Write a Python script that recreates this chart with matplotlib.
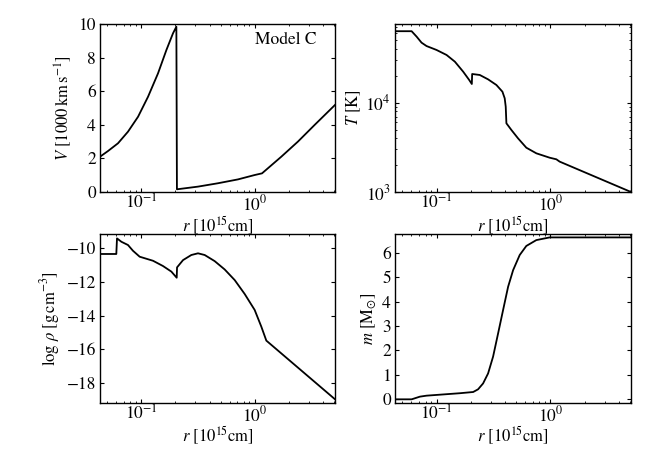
import numpy as np
import matplotlib
matplotlib.use('Agg')
import matplotlib.pyplot as plt

plt.rcParams['font.family'] = 'STIXGeneral'
plt.rcParams['mathtext.fontset'] = 'stix'
plt.rcParams['font.size'] = 12
plt.rcParams['xtick.labelsize'] = 12.5
plt.rcParams['ytick.labelsize'] = 12.5
plt.rcParams['xtick.direction'] = 'in'
plt.rcParams['ytick.direction'] = 'in'
plt.rcParams['xtick.top'] = True
plt.rcParams['ytick.right'] = True
plt.rcParams['xtick.major.size'] = 3
plt.rcParams['ytick.major.size'] = 3
plt.rcParams['xtick.minor.size'] = 1.6
plt.rcParams['ytick.minor.size'] = 1.6
plt.rcParams['xtick.major.pad'] = 1.5
plt.rcParams['ytick.major.pad'] = 3
plt.rcParams['axes.linewidth'] = 1.0

# velocity profile (log10 r, V in 1000 km/s)
logr_v = [-1.365, -1.294, -1.206, -1.118, -1.029, -0.941, -0.853, -0.779, -0.721,
          -0.691, -0.686, -0.5, -0.324, -0.147, 0.0, 0.065, 0.235, 0.382, 0.529, 0.709]
v = [2.10, 2.44, 2.90, 3.59, 4.48, 5.67, 7.06, 8.45, 9.44,
     9.84, 0.16, 0.32, 0.52, 0.75, 1.01, 1.11, 2.10, 3.00, 3.99, 5.18]

# temperature profile (log10 r, log10 T)
logr_t = [-1.365, -1.219, -1.175, -1.132, -1.088, -1.0, -0.912, -0.839, -0.766,
          -0.713, -0.690, -0.687, -0.620, -0.547, -0.474, -0.421, -0.401, -0.392,
          -0.386, -0.342, -0.284, -0.211, -0.123, -0.006, 0.053, 0.082, 0.709]
log_t = [4.80, 4.80, 4.739, 4.672, 4.634, 4.590, 4.534, 4.459, 4.347,
         4.254, 4.209, 4.321, 4.310, 4.261, 4.198, 4.123, 4.049, 3.955,
         3.769, 3.694, 3.601, 3.496, 3.433, 3.384, 3.366, 3.340, 3.0]

# density profile (log10 r, log10 rho)
logr_rho = [-1.365, -1.221, -1.215, -1.176, -1.118, -1.074, -1.015, -0.897, -0.809,
            -0.735, -0.688, -0.685, -0.632, -0.559, -0.5, -0.441, -0.353, -0.265,
            -0.176, -0.088, 0.0, 0.059, 0.103, 0.709]
log_rho = [-10.37, -10.37, -9.45, -9.65, -9.84, -10.18, -10.53, -10.77, -11.08,
           -11.41, -11.77, -11.16, -10.73, -10.43, -10.33, -10.43, -10.79, -11.28,
           -11.91, -12.73, -13.67, -14.66, -15.48, -18.94]

# mass coordinate (log10 r, m in Msun)
logr_m = [-1.365, -1.219, -1.146, -1.088, -0.942, -0.795, -0.678, -0.635, -0.591,
          -0.547, -0.503, -0.459, -0.415, -0.371, -0.327, -0.269, -0.211, -0.123,
          -0.006, 0.709]
m = [0.0, 0.0, 0.11, 0.15, 0.20, 0.25, 0.30, 0.41, 0.65,
     1.06, 1.75, 2.70, 3.66, 4.61, 5.29, 5.91, 6.28, 6.52,
     6.63, 6.63]

xlab = r'$r$ [10$^{15}$cm]'
xmin, xmax = 10**-1.365, 10**0.709

fig = plt.figure(figsize=(6.64, 4.75), dpi=100)
ax1 = fig.add_axes([0.1506, 0.5958, 0.3539, 0.3537])
ax2 = fig.add_axes([0.5949, 0.5958, 0.3554, 0.3537])
ax3 = fig.add_axes([0.1506, 0.1516, 0.3539, 0.3558])
ax4 = fig.add_axes([0.5949, 0.1516, 0.3554, 0.3558])

ax1.plot(10**np.array(logr_v), v, 'k-', lw=1.3)
ax1.set_ylim(0, 10)
ax1.set_yticks([0, 2, 4, 6, 8, 10])
ax1.set_ylabel(r'$V$ [1000$\,$km$\,$s$^{-1}$]', labelpad=3)
ax1.text(0.92, 0.95, 'Model C', transform=ax1.transAxes, ha='right', va='top',
         fontsize=12.5)

ax2.plot(10**np.array(logr_t), 10**np.array(log_t), 'k-', lw=1.3)
ax2.set_yscale('log')
ax2.set_ylim(1e3, 7.6e4)
ax2.set_ylabel(r'$T$ [K]', labelpad=2)

ax3.plot(10**np.array(logr_rho), log_rho, 'k-', lw=1.3)
ax3.set_ylim(-19.16, -9.19)
ax3.set_yticks([-18, -16, -14, -12, -10])
ax3.set_ylabel(r'$\log\,\rho$ [g$\,$cm$^{-3}$]', labelpad=3)

ax4.plot(10**np.array(logr_m), m, 'k-', lw=1.3)
ax4.set_ylim(-0.15, 6.77)
ax4.set_yticks([0, 1, 2, 3, 4, 5, 6])
ax4.set_ylabel(r'$m$ [M$_{\odot}$]', labelpad=3)

for ax in [ax1, ax2, ax3, ax4]:
    ax.set_xscale('log')
    ax.set_xlim(xmin, xmax)
    ax.set_xlabel(xlab, labelpad=0)
    ax.tick_params(which='both', top=True, right=True)

plt.savefig('out.png', dpi=100)
